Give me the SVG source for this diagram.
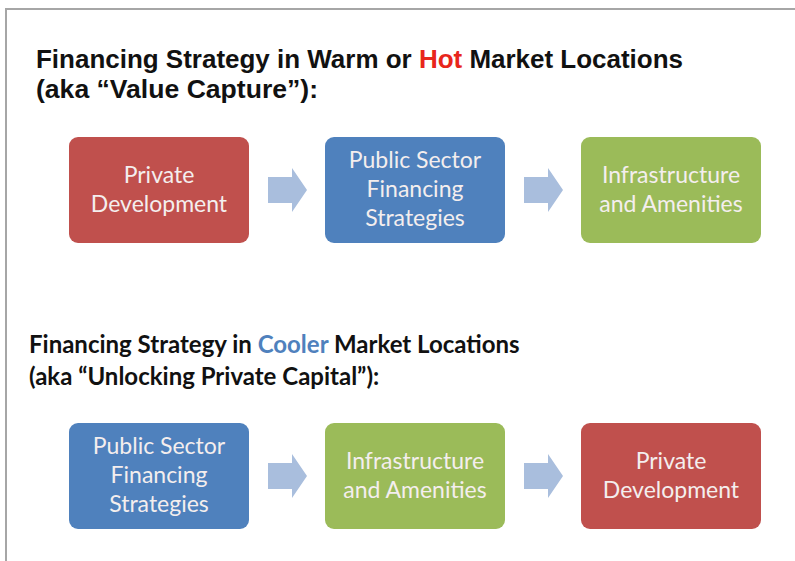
<svg xmlns="http://www.w3.org/2000/svg" width="795" height="561" viewBox="0 0 795 561">
<defs>
<style>
.frame{fill:none;stroke:#a6a6a6;stroke-width:2}
.red{fill:#c0504d}
.blue{fill:#4f81bd}
.green{fill:#9bbb59}
.arrow{fill:#a9bedd}
.t1{font-family:"Liberation Sans",Arial,sans-serif;font-weight:bold;font-size:25px;fill:#111}
.t2{font-family:Lato,"Open Sans",sans-serif;font-weight:bold;font-size:24px;fill:#111}
.lbl{font-family:Lato,"Open Sans",sans-serif;font-size:23px;fill:#f4eeee;text-anchor:middle}
</style>
<path id="arr" d="M0,9 H24 V0 L39,22 L24,44 V35 H0 Z"/>
</defs>
<rect width="795" height="561" fill="#fff"/>
<path class="frame" d="M6,561 V9 H795"/>
<g id="title1">
<text class="t1" x="36" y="68" textLength="647" lengthAdjust="spacingAndGlyphs">Financing Strategy in Warm or <tspan fill="#e8261c">Hot</tspan> Market Locations</text>
<text class="t1" x="36" y="98" textLength="282" lengthAdjust="spacingAndGlyphs">(aka “Value Capture”):</text>
</g>
<g id="title2">
<text class="t2" x="29" y="353">Financing Strategy in <tspan fill="#4f81bd">Cooler</tspan> Market Locations</text>
<text class="t2" x="29" y="385">(aka “Unlocking Private Capital”):</text>
</g>
<g id="n1"><rect class="red" x="69" y="137" width="180" height="106" rx="9"/>
<text class="lbl" x="159" y="183">Private</text><text class="lbl" x="159" y="212">Development</text></g>
<g id="n2"><rect class="blue" x="325" y="137" width="180" height="106" rx="9"/>
<text class="lbl" x="415" y="168">Public Sector</text><text class="lbl" x="415" y="197">Financing</text><text class="lbl" x="415" y="226">Strategies</text></g>
<g id="n3"><rect class="green" x="581" y="137" width="180" height="106" rx="9"/>
<text class="lbl" x="671" y="183">Infrastructure</text><text class="lbl" x="671" y="212">and Amenities</text></g>
<g id="n4"><rect class="blue" x="69" y="423" width="180" height="106" rx="9"/>
<text class="lbl" x="159" y="454">Public Sector</text><text class="lbl" x="159" y="483">Financing</text><text class="lbl" x="159" y="512">Strategies</text></g>
<g id="n5"><rect class="green" x="325" y="423" width="180" height="106" rx="9"/>
<text class="lbl" x="415" y="469">Infrastructure</text><text class="lbl" x="415" y="498">and Amenities</text></g>
<g id="n6"><rect class="red" x="581" y="423" width="180" height="106" rx="9"/>
<text class="lbl" x="671" y="469">Private</text><text class="lbl" x="671" y="498">Development</text></g>
<g id="connectors" class="arrow">
<use href="#arr" x="268" y="168"/>
<use href="#arr" x="524" y="168"/>
<use href="#arr" x="268" y="454"/>
<use href="#arr" x="524" y="454"/>
</g>
</svg>
